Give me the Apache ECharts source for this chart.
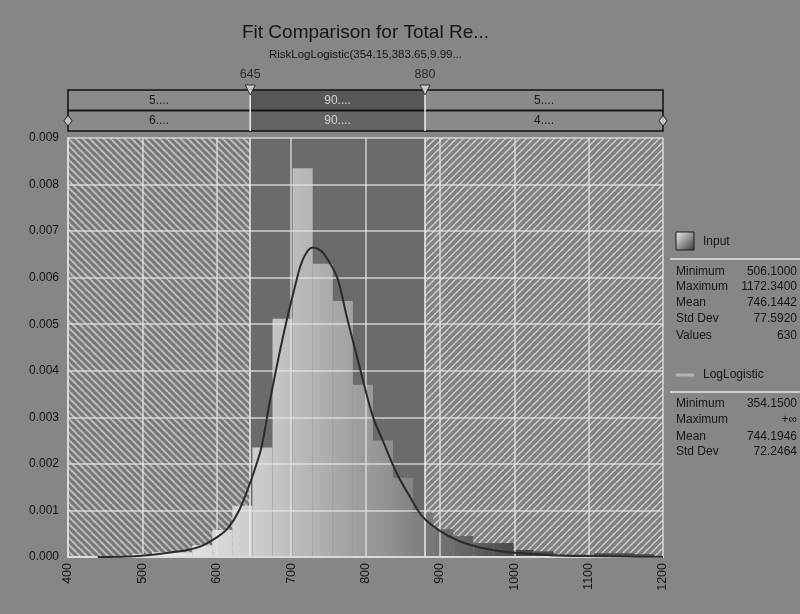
<!DOCTYPE html>
<html>
<head>
<meta charset="utf-8">
<script src="https://cdn.jsdelivr.net/npm/echarts@6/dist/echarts.min.js"></script>
<style>
  html, body { margin: 0; padding: 0; background: #868686; }
  #chart { width: 800px; height: 614px; }
</style>
</head>
<body>
<div id="chart"></div>
<script>
// ---- Data -------------------------------------------------------------
// Histogram of the input sample: bin edges and density per bin
const binEdges = [486, 513, 540, 567, 594, 621, 648, 675, 702, 729, 756, 783, 810,
                  837, 864, 891, 918, 945, 972, 999, 1026, 1053, 1080, 1107, 1134, 1161, 1188];
const binDensity = [0.00006, 0.00010, 0.00010, 0.00025, 0.00058, 0.00110, 0.00235, 0.00512,
                    0.00835, 0.00630, 0.00550, 0.00370, 0.00250, 0.00170, 0.00095, 0.00060,
                    0.00045, 0.00030, 0.00030, 0.00015, 0.00012, 0.00005, 0.00005, 0.00008,
                    0.00008, 0.00006];

// Fitted LogLogistic density
const curveX = [440, 480, 500, 520, 540, 560, 580, 600, 615, 630, 645, 660, 672, 690, 705,
                716, 729, 740, 748, 762, 775, 793, 810, 823, 842, 860, 877, 900, 925, 950,
                975, 1000, 1050, 1100, 1150, 1200];
const curveY = [0.00000, 0.00001, 0.00003, 0.00006, 0.00010, 0.00015, 0.00024, 0.00042,
                0.00062, 0.00100, 0.00160, 0.00235, 0.00340, 0.00480, 0.00580, 0.00640,
                0.00665, 0.00658, 0.00642, 0.00600, 0.00515, 0.00402, 0.00301, 0.00251,
                0.00180, 0.00129, 0.00086, 0.00056, 0.00035, 0.00022, 0.00014, 0.00009,
                0.00004, 0.00002, 0.00001, 0.000005];

// Axis ranges / ticks
const xMin = 400, xMax = 1200, xStep = 100;
const yMin = 0, yMax = 0.009, yStep = 0.001;

// Delimiter values and the probability text of each band (input row, fit row)
const delimiters = [645, 880];
const bandTexts = [
  ['5....', '90....', '5....'],
  ['6....', '90....', '4....']
];

// Statistics panels
const inputStats = [['Minimum', '506.1000'], ['Maximum', '1172.3400'], ['Mean', '746.1442'],
                    ['Std Dev', '77.5920'], ['Values', '630']];
const fitStats = [['Minimum', '354.1500'], ['Maximum', '+\u221E'], ['Mean', '744.1946'],
                  ['Std Dev', '72.2464']];

const titleText = 'Fit Comparison for Total Re...';
const subtitleText = 'RiskLogLogistic(354.15,383.65,9.99...';

// ---- Layout -----------------------------------------------------------
const FONT = 'Liberation Sans, Arial, sans-serif';
const G = { left: 68, right: 137, top: 138, bottom: 57 };
const plotCenterX = G.left + (800 - G.left - G.right) / 2;

// ---- Fill patterns ----------------------------------------------------
function hatch(dir, bg, light, dark) {
  const s = 7;
  const c = document.createElement('canvas');
  c.width = c.height = s;
  const g = c.getContext('2d');
  g.fillStyle = bg;
  g.fillRect(0, 0, s, s);
  const stroke = (color, off, w) => {
    g.strokeStyle = color;
    g.lineWidth = w;
    for (let k = -1; k <= 1; k++) {
      g.beginPath();
      if (dir === 'back') { g.moveTo(k * s + off, 0); g.lineTo(k * s + off + s, s); }
      else { g.moveTo(k * s + off, s); g.lineTo(k * s + off + s, 0); }
      g.stroke();
    }
  };
  stroke(light, 0, 1.3);
  if (dark) stroke(dark, s / 2, 1);
  return c;
}
const leftHatch = { image: hatch('back', '#868686', '#c9c9c9', '#626262'), repeat: 'repeat' };
const rightHatch = { image: hatch('fwd', '#828282', '#d2d2d2', null), repeat: 'repeat' };
const innerFill = '#6b6b6b';

// Band boundaries on the x scale
const bounds = [xMin].concat(delimiters, [xMax]);

const chart = echarts.init(document.getElementById('chart'), null, { renderer: 'canvas' });

// Background bands of the plot area
const bandData = [];
for (let i = 0; i < bounds.length - 1; i++) bandData.push([bounds[i], bounds[i + 1], i]);

// Histogram items
const histData = binDensity.map((d, i) => [binEdges[i], binEdges[i + 1], d]);

// Delimiter bar items: [lo, hi, row, section]; section -1 = row outline, -2 = marker lines
const delimData = [];
for (let r = 0; r < 2; r++) {
  for (let s = 0; s < bounds.length - 1; s++) delimData.push([bounds[s], bounds[s + 1], r, s]);
}
for (let r = 0; r < 2; r++) delimData.push([xMin, xMax, r, -1]);
delimiters.forEach(v => delimData.push([v, v, 0, -2]));

const option = {
  backgroundColor: '#868686',
  animation: false,
  textStyle: { fontFamily: FONT },
  grid: [
    { left: G.left, right: G.right, top: G.top, bottom: G.bottom },
    { left: G.left, right: G.right, top: 90, height: 41 }
  ],
  xAxis: [
    {
      type: 'value', gridIndex: 0, min: xMin, max: xMax, interval: xStep, z: 5,
      axisLine: { show: true, onZero: false, lineStyle: { color: '#dadada', width: 2 } },
      axisTick: { show: false },
      splitLine: { show: true, lineStyle: { color: 'rgba(226,226,226,0.85)', width: 1.5 } },
      axisLabel: { rotate: 90, color: '#151515', fontSize: 12.5, margin: 6, fontFamily: FONT,
                   formatter: v => String(v) }
    },
    { type: 'value', gridIndex: 1, min: xMin, max: xMax, show: false }
  ],
  yAxis: [
    {
      type: 'value', gridIndex: 0, min: yMin, max: yMax, interval: yStep, z: 5,
      axisLine: { show: true, lineStyle: { color: '#dadada', width: 2 } },
      axisTick: { show: false },
      splitLine: { show: true, lineStyle: { color: 'rgba(226,226,226,0.85)', width: 1.5 } },
      axisLabel: { color: '#151515', fontSize: 12, margin: 9, fontFamily: FONT,
                   formatter: v => v.toFixed(3) }
    },
    { type: 'value', gridIndex: 1, min: 0, max: 2, inverse: true, show: false }
  ],
  series: [
    {
      // shaded bands: outside the delimiters hatched, inside solid
      type: 'custom', xAxisIndex: 0, yAxisIndex: 0, z: 1, silent: true,
      data: bandData,
      encode: { x: [0, 1] },
      renderItem(params, api) {
        const a = api.coord([api.value(0), yMax]);
        const b = api.coord([api.value(1), yMin]);
        const k = api.value(2);
        const fill = k === 0 ? leftHatch : (k === bounds.length - 2 ? rightHatch : innerFill);
        return { type: 'rect', shape: { x: a[0], y: a[1], width: b[0] - a[0], height: b[1] - a[1] },
                 style: { fill: fill } };
      }
    },
    {
      // input histogram
      type: 'custom', name: 'Input', xAxisIndex: 0, yAxisIndex: 0, z: 3, silent: true,
      data: histData,
      encode: { x: [0, 1], y: 2 },
      renderItem(params, api) {
        const a = api.coord([api.value(0), api.value(2)]);
        const b = api.coord([api.value(1), 0]);
        const gx0 = api.coord([500, 0])[0];
        const gx1 = api.coord([1000, 0])[0];
        return {
          type: 'rect',
          shape: { x: a[0], y: a[1], width: b[0] - a[0], height: b[1] - a[1] },
          style: {
            fill: new echarts.graphic.LinearGradient(gx0, 0, gx1, 0, [
              { offset: 0, color: '#f0f0f0' },
              { offset: 0.35, color: '#c6c6c6' },
              { offset: 0.65, color: '#939393' },
              { offset: 1, color: '#4a4a4a' }
            ], true)
          }
        };
      },
      markLine: {
        silent: true, symbol: 'none', label: { show: false },
        lineStyle: { color: '#ececec', width: 1.5, type: 'solid' },
        data: delimiters.map(v => ({ xAxis: v }))
      }
    },
    {
      type: 'line', name: 'LogLogistic', xAxisIndex: 0, yAxisIndex: 0, z: 6,
      data: curveX.map((x, i) => [x, curveY[i]]),
      smooth: 0.35, symbol: 'none', silent: true,
      lineStyle: { color: '#2b2b2b', width: 2 }
    },
    {
      // delimiter bar above the plot
      type: 'custom', xAxisIndex: 1, yAxisIndex: 1, z: 2, silent: true,
      data: delimData,
      encode: { x: [0, 1] },
      renderItem(params, api) {
        const lo = api.value(0), hi = api.value(1), r = api.value(2), s = api.value(3);
        const a = api.coord([lo, r]);
        const b = api.coord([hi, r + 1]);
        if (s === -2) {
          const top = api.coord([lo, 0]);
          const bot = api.coord([lo, 2]);
          return { type: 'line', shape: { x1: top[0], y1: top[1], x2: bot[0], y2: bot[1] },
                   style: { stroke: '#ececec', lineWidth: 1.5 }, z2: 20 };
        }
        if (s === -1) {
          return { type: 'rect', shape: { x: a[0], y: a[1], width: b[0] - a[0], height: b[1] - a[1] },
                   style: { fill: null, stroke: '#111', lineWidth: 1.5 }, z2: 10 };
        }
        const inner = s > 0 && s < bounds.length - 2;
        return {
          type: 'rect',
          shape: { x: a[0], y: a[1], width: b[0] - a[0], height: b[1] - a[1] },
          style: { fill: inner ? (r === 0 ? '#575757' : '#636363') : '#8a8a8a' },
          textContent: {
            style: { text: bandTexts[r][s], fill: inner ? '#d2d2d2' : '#1c1c1c',
                     fontSize: 12, fontFamily: FONT }
          },
          textConfig: { position: 'inside' }
        };
      }
    },
    {
      // delimiter handles with their values
      type: 'scatter', xAxisIndex: 1, yAxisIndex: 1, z: 8, silent: true,
      data: delimiters.map(v => [v, 0]),
      symbol: 'triangle', symbolRotate: 180, symbolSize: [10, 10],
      itemStyle: { color: '#d9d9d9', borderColor: '#1a1a1a', borderWidth: 1 },
      label: { show: true, position: 'top', distance: 3, color: '#141414', fontSize: 12.5,
               textBorderWidth: 0, fontFamily: FONT, formatter: p => String(p.value[0]) }
    },
    {
      type: 'scatter', xAxisIndex: 1, yAxisIndex: 1, z: 8, silent: true,
      data: [[xMin, 1.5], [xMax, 1.5]],
      symbol: 'diamond', symbolSize: [8, 11],
      itemStyle: { color: '#e2e2e2', borderColor: '#1a1a1a', borderWidth: 1 }
    }
  ],
  graphic: []
};

// ---- Titles and statistics panel ---------------------------------------
const gfx = [];
gfx.push({ type: 'text', x: plotCenterX, y: 33, z: 10,
  style: { text: titleText, fill: '#161616', fontSize: 19, fontFamily: FONT,
           align: 'center', verticalAlign: 'middle' } });
gfx.push({ type: 'text', x: plotCenterX, y: 55, z: 10,
  style: { text: subtitleText, fill: '#161616', fontSize: 11.5, fontFamily: FONT,
           align: 'center', verticalAlign: 'middle' } });

const PX = 676, PR = 797;
// Input entry
gfx.push({ type: 'rect', shape: { x: PX, y: 232, width: 18, height: 18 }, z: 10,
  style: { fill: new echarts.graphic.LinearGradient(0, 0, 1, 1, [
    { offset: 0, color: '#f2f2f2' }, { offset: 1, color: '#3a3a3a' }]),
    stroke: '#1a1a1a', lineWidth: 1 } });
gfx.push({ type: 'text', x: 703, y: 242, z: 10,
  style: { text: 'Input', fill: '#161616', fontSize: 12, fontFamily: FONT, verticalAlign: 'middle' } });
gfx.push({ type: 'line', shape: { x1: 670, y1: 259, x2: 800, y2: 259 }, z: 10,
  style: { stroke: '#cfcfcf', lineWidth: 2 } });
const inputRowsY = [272, 287, 303, 319, 336];
inputStats.forEach((row, i) => {
  gfx.push({ type: 'text', x: PX, y: inputRowsY[i], z: 10,
    style: { text: row[0], fill: '#161616', fontSize: 12, fontFamily: FONT, verticalAlign: 'middle' } });
  gfx.push({ type: 'text', x: PR, y: inputRowsY[i], z: 10,
    style: { text: row[1], fill: '#161616', fontSize: 12, fontFamily: FONT,
             align: 'right', verticalAlign: 'middle' } });
});
// Fit entry
gfx.push({ type: 'line', shape: { x1: PX, y1: 375, x2: 694, y2: 375 }, z: 10,
  style: { stroke: '#b4b4b4', lineWidth: 3 } });
gfx.push({ type: 'text', x: 703, y: 375, z: 10,
  style: { text: 'LogLogistic', fill: '#161616', fontSize: 12, fontFamily: FONT, verticalAlign: 'middle' } });
gfx.push({ type: 'line', shape: { x1: 670, y1: 392, x2: 800, y2: 392 }, z: 10,
  style: { stroke: '#cfcfcf', lineWidth: 2 } });
const fitRowsY = [404, 420, 437, 452];
fitStats.forEach((row, i) => {
  gfx.push({ type: 'text', x: PX, y: fitRowsY[i], z: 10,
    style: { text: row[0], fill: '#161616', fontSize: 12, fontFamily: FONT, verticalAlign: 'middle' } });
  gfx.push({ type: 'text', x: PR, y: fitRowsY[i], z: 10,
    style: { text: row[1], fill: '#161616', fontSize: 12, fontFamily: FONT,
             align: 'right', verticalAlign: 'middle' } });
});
option.graphic = gfx;

chart.setOption(option);
</script>
</body>
</html>
